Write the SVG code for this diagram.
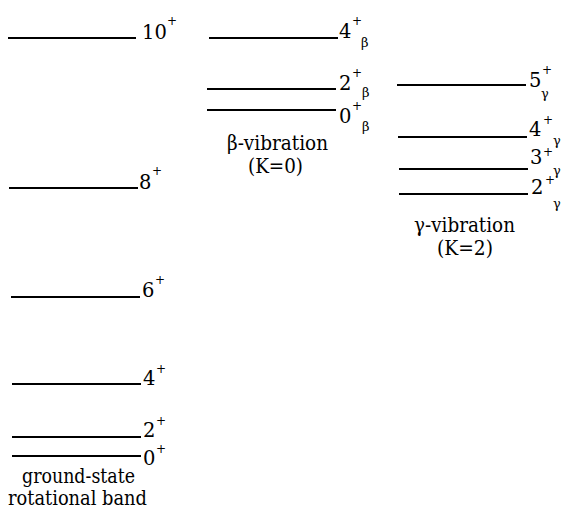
<svg xmlns="http://www.w3.org/2000/svg" width="564" height="512" viewBox="0 0 564 512">
<style>
.lv{stroke:#000;stroke-width:2;fill:none}
text{font-family:'DejaVu Serif','Liberation Serif',serif;fill:#000}
.n{font-size:19.5px}
.p{font-size:12px}
.s{font-size:13px}
.c{font-size:19.5px;text-anchor:middle}
</style>
<rect width="564" height="512" fill="#fff"/>
<g id="ground-band">
<g id="g10"><line class="lv" x1="8" y1="38" x2="136" y2="38"/><text class="n" x="142" y="39">10</text><text class="p" x="167" y="25">+</text></g>
<g id="g8"><line class="lv" x1="9" y1="188" x2="138" y2="188"/><text class="n" x="139" y="189">8</text><text class="p" x="152" y="175">+</text></g>
<g id="g6"><line class="lv" x1="11" y1="297" x2="140" y2="297"/><text class="n" x="142" y="297">6</text><text class="p" x="155" y="284">+</text></g>
<g id="g4"><line class="lv" x1="12" y1="384" x2="141" y2="384"/><text class="n" x="143" y="385">4</text><text class="p" x="156" y="373">+</text></g>
<g id="g2"><line class="lv" x1="12" y1="437" x2="141" y2="437"/><text class="n" x="143" y="437">2</text><text class="p" x="156" y="425">+</text></g>
<g id="g0"><line class="lv" x1="12" y1="456" x2="141" y2="456"/><text class="n" x="143" y="465">0</text><text class="p" x="156" y="453">+</text></g>
<text class="c" x="78.5" y="483" textLength="113" lengthAdjust="spacingAndGlyphs">ground-state</text>
<text class="c" x="77.5" y="505" textLength="139" lengthAdjust="spacingAndGlyphs">rotational band</text>
</g>
<g id="beta-band">
<g id="b4"><line class="lv" x1="209" y1="38" x2="338" y2="38"/><text class="n" x="339" y="38">4</text><text class="p" x="352" y="25">+</text><text class="s" x="361" y="47">β</text></g>
<g id="b2"><line class="lv" x1="207" y1="89" x2="336" y2="89"/><text class="n" x="339" y="90">2</text><text class="p" x="352" y="77">+</text><text class="s" x="362" y="97">β</text></g>
<g id="b0"><line class="lv" x1="207" y1="110" x2="336" y2="110"/><text class="n" x="339" y="123">0</text><text class="p" x="352" y="110">+</text><text class="s" x="362" y="131">β</text></g>
<text class="c" x="277.5" y="150" textLength="101" lengthAdjust="spacingAndGlyphs">β-vibration</text>
<text class="c" x="275.5" y="173" textLength="55" lengthAdjust="spacingAndGlyphs">(K=0)</text>
</g>
<g id="gamma-band">
<g id="y5"><line class="lv" x1="397" y1="85" x2="526" y2="85"/><text class="n" x="529" y="87">5</text><text class="p" x="542" y="74">+</text><text class="s" x="541" y="98">γ</text></g>
<g id="y4"><line class="lv" x1="398" y1="137" x2="527" y2="137"/><text class="n" x="529" y="136">4</text><text class="p" x="543" y="124">+</text><text class="s" x="553" y="145">γ</text></g>
<g id="y3"><line class="lv" x1="399" y1="169" x2="528" y2="169"/><text class="n" x="530" y="164">3</text><text class="p" x="543" y="156">+</text><text class="s" x="553" y="175">γ</text></g>
<g id="y2"><line class="lv" x1="399" y1="194" x2="528" y2="194"/><text class="n" x="531" y="194">2</text><text class="p" x="545" y="184">+</text><text class="s" x="553" y="208">γ</text></g>
<text class="c" x="464.5" y="232" textLength="101" lengthAdjust="spacingAndGlyphs">γ-vibration</text>
<text class="c" x="465" y="255" textLength="56" lengthAdjust="spacingAndGlyphs">(K=2)</text>
</g>
<g id="connectors"/>
</svg>
